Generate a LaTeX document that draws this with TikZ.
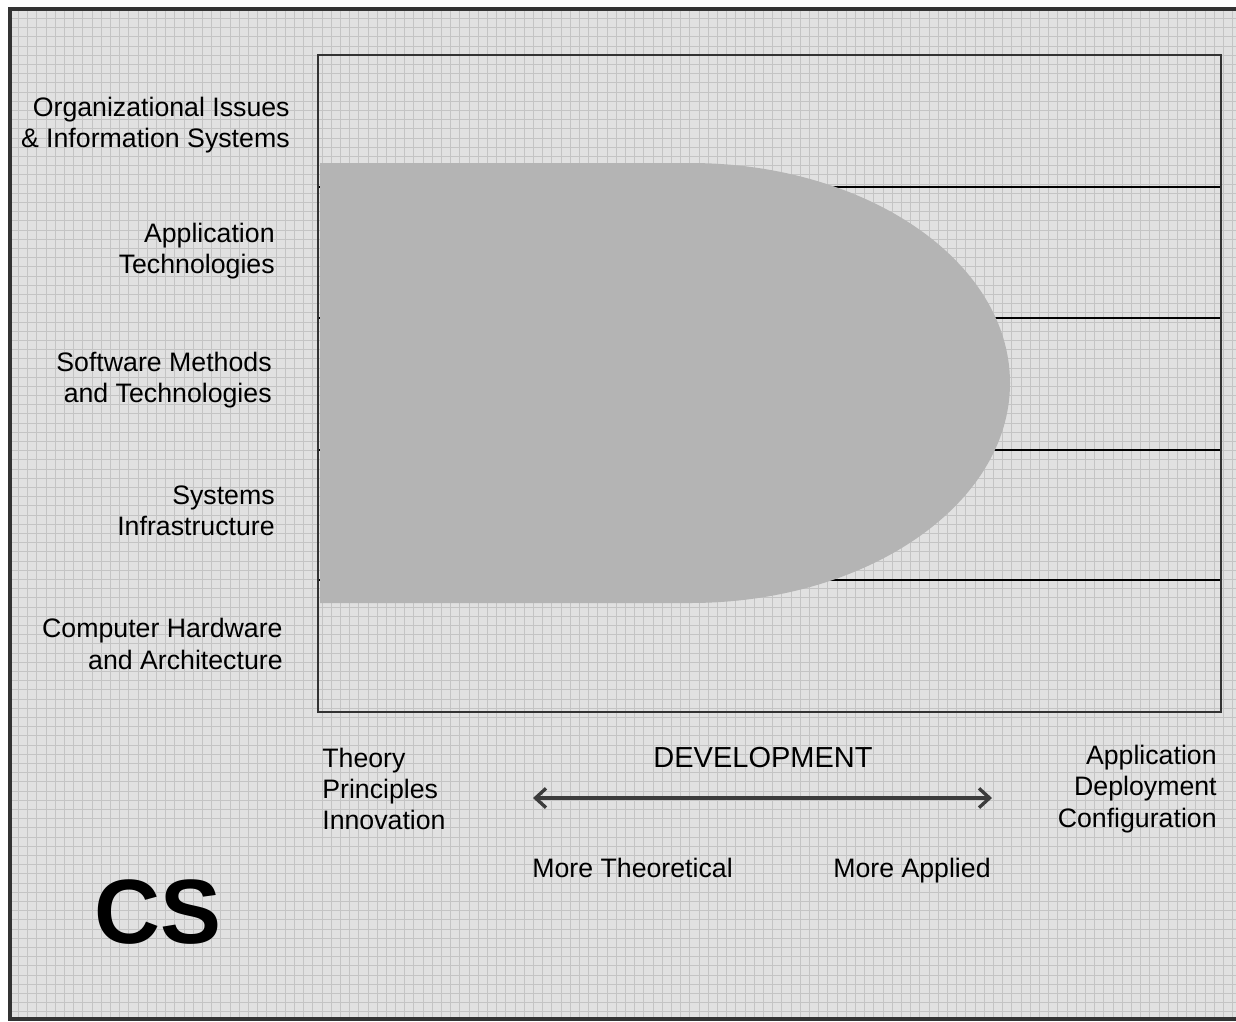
\documentclass[tikz,border=0pt]{standalone}
\usepackage{fontspec}
\setmainfont{Liberation Sans}
\usepackage{tikz}
\usetikzlibrary{arrows.meta}
\definecolor{paper}{HTML}{E1E1E1}
\definecolor{gridline}{HTML}{C4C4C4}
\definecolor{blob}{HTML}{B4B4B4}
\definecolor{edge}{HTML}{333333}
\definecolor{arrowgray}{HTML}{3C3C3C}
\tikzset{
  lbl/.style={font=\fontsize{15.2}{17.8}\selectfont, inner sep=0pt},
  lbll/.style={lbl, anchor=east, align=right},
  oneline/.style={lbl, text height=1.1ex, text depth=0pt},
  devarrow/.style={arrowgray, line width=1.9pt, {Straight Barb[length=6pt,width=11pt,line width=1.9pt]}-{Straight Barb[length=6pt,width=11pt,line width=1.9pt]}}
}

\begin{document}
\begin{tikzpicture}[x=0.02cm,y=0.02cm]

\useasboundingbox (0,0) rectangle (1236,-1021);
\fill[white] (0,0) rectangle (1236,-1021);
\fill[paper] (10,-9) rectangle (1240,-1019);								% Blatt
\draw[gridline, line width=0.5pt, step=0.184cm] (10,-9) grid (1240,-1019);	% Raster
\draw[edge, line width=2pt] (1240,-9) -- (10,-9) -- (10,-1019) -- (1240,-1019);	% Rahmen

\foreach \y in {187,318,450,580}
  \draw[black, line width=1pt] (318,-\y) -- (1221,-\y);					% Trennlinien

\fill[blob] (320,-163) -- (690,-163) arc[start angle=90, end angle=-90, x radius=320, y radius=220] -- (320,-603) -- cycle;	% Bereich CS

\draw[edge, line width=1.3pt] (318,-55) rectangle (1221,-712);				% Kasten

\node[lbll] (orgis) at (290,-125) {Organizational Issues\\\& Information Systems};
\node[lbll] (apptech) at (275,-251) {Application\\Technologies};
\node[lbll] (softmeth) at (272,-380) {Software Methods\\and Technologies};
\node[lbll] (sysinf) at (275,-511) {Systems\\Infrastructure};
\node[lbll] (comphw) at (283,-644) {Computer Hardware\\and Architecture};

\node[lbl, anchor=west, align=left] (theory) at (322,-789) {Theory\\Principles\\Innovation};
\node[lbl, anchor=east, align=right] (appdep) at (1217,-789) {Application\\Deployment\\Configuration};
\node[oneline, font=\fontsize{16.5}{19}\selectfont] (devel) at (763,-762) {DEVELOPMENT};

\coordinate (theoend) at (533,-798);
\coordinate (applend) at (992,-798);
\draw[devarrow] (theoend) -- (applend);									% Pfeil

\node[oneline, anchor=west] (moretheo) at (532,-872) {More Theoretical};
\node[oneline, anchor=east] (moreappl) at (991,-872) {More Applied};

\node[inner sep=0pt, font=\fontsize{52}{60}\selectfont\bfseries] (cs) at (158,-912) {CS};

\end{tikzpicture}
\end{document}
